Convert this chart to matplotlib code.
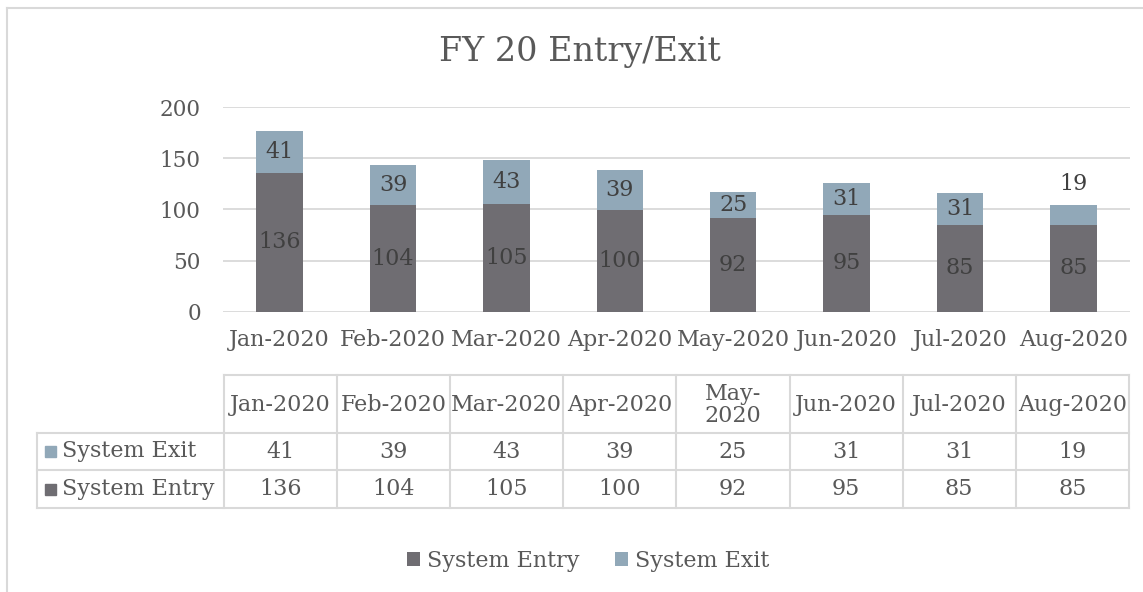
import numpy as np
import matplotlib.pyplot as plt
from matplotlib.patches import Rectangle
from matplotlib.lines import Line2D

months = ["Jan-2020", "Feb-2020", "Mar-2020", "Apr-2020",
          "May-2020", "Jun-2020", "Jul-2020", "Aug-2020"]
table_headers = ["Jan-2020", "Feb-2020", "Mar-2020", "Apr-2020",
                 "May-\n2020", "Jun-2020", "Jul-2020", "Aug-2020"]
system_entry = [136, 104, 105, 100, 92, 95, 85, 85]
system_exit = [41, 39, 43, 39, 25, 31, 31, 19]
yticks = [0, 50, 100, 150, 200]

ENTRY_C = "#6f6d72"
EXIT_C = "#91a8b8"
TXT = "#595959"
LBL = "#404040"
GRID = "#d9d9d9"
FS = 16

plt.rcParams['font.family'] = ['DejaVu Serif']

W, H = 1143, 592
fig = plt.figure(figsize=(W / 100, H / 100), dpi=100)

def fx(px):
    return px / W

def fy(py):
    return 1 - py / H

# outer chart frame (left & top visible)
fig.add_artist(Line2D([fx(7), fx(7)], [fy(8), 0], color=GRID, lw=1.5))
fig.add_artist(Line2D([fx(7), 1], [fy(8), fy(8)], color=GRID, lw=1.5))

fig.text(fx(580), fy(52), "FY 20 Entry/Exit", ha='center', va='center',
         fontsize=24, color=TXT)

# plot area
ax = fig.add_axes([fx(223), fy(312), fx(1130) - fx(223), fy(107) - fy(312)])
x = np.arange(len(months))
bw = 0.41
ax.bar(x, system_entry, bw, color=ENTRY_C, zorder=3, label="System Entry")
ax.bar(x, system_exit, bw, bottom=system_entry, color=EXIT_C, zorder=3,
       label="System Exit")
ax.set_xlim(-0.5, len(months) - 0.5)
ax.set_ylim(0, 200)
ax.set_yticks(yticks)
ax.yaxis.grid(True, color=GRID, lw=1.3, zorder=0)
for s in ax.spines.values():
    s.set_visible(False)
ax.tick_params(axis='y', length=0, labelsize=15.5, labelcolor=TXT, pad=16)
ax.set_xticks(x)
ax.set_xticklabels(months)
ax.tick_params(axis='x', length=0, labelsize=FS, labelcolor=TXT, pad=12)

for i in x:
    e, q = system_entry[i], system_exit[i]
    ax.text(i, e / 2, str(e), ha='center', va='center', fontsize=FS, color=LBL, zorder=4)
    if q >= 20:
        ax.text(i, e + q / 2, str(q), ha='center', va='center', fontsize=FS,
                color=LBL, zorder=4)
    else:
        ax.text(i, e + q + 10, str(q), ha='center', va='bottom', fontsize=FS,
                color=LBL, zorder=4)

# data table below chart
col_edges = [224 + 113.1 * k for k in range(len(months) + 1)]
row_y = [375, 433, 470, 508]
left_x = 37
tc = "#d9d9d9"
lw = 1.5
fig.add_artist(Line2D([fx(col_edges[0]), fx(col_edges[-1])], [fy(row_y[0])] * 2, color=tc, lw=lw))
for yy in row_y[1:]:
    fig.add_artist(Line2D([fx(left_x), fx(col_edges[-1])], [fy(yy)] * 2, color=tc, lw=lw))
for k, xx in enumerate(col_edges):
    fig.add_artist(Line2D([fx(xx)] * 2, [fy(row_y[0]), fy(row_y[-1])], color=tc, lw=lw))
fig.add_artist(Line2D([fx(left_x)] * 2, [fy(row_y[1]), fy(row_y[-1])], color=tc, lw=lw))

for k, h in enumerate(table_headers):
    cx = (col_edges[k] + col_edges[k + 1]) / 2
    fig.text(fx(cx), fy((row_y[0] + row_y[1]) / 2 + 1), h, ha='center', va='center',
             fontsize=FS, color=TXT, linespacing=1.05)

rows = [("System Exit", system_exit, EXIT_C), ("System Entry", system_entry, ENTRY_C)]
for r, (name, vals, c) in enumerate(rows):
    cy = (row_y[r + 1] + row_y[r + 2]) / 2
    fig.add_artist(Rectangle((fx(45), fy(cy) - 0.5 * 11 / H), 11 / W, 11 / H,
                             color=c, transform=fig.transFigure))
    fig.text(fx(62), fy(cy), name, ha='left', va='center', fontsize=FS, color=TXT)
    for k, v in enumerate(vals):
        cx = (col_edges[k] + col_edges[k + 1]) / 2
        fig.text(fx(cx), fy(cy), str(v), ha='center', va='center', fontsize=FS, color=TXT)

# legend
leg = fig.legend(loc='center', bbox_to_anchor=(fx(588), fy(561)), ncol=2, frameon=False,
                 fontsize=FS, handlelength=0.6, handleheight=0.6, handletextpad=0.3,
                 columnspacing=1.6, labelcolor=TXT)

fig.savefig("out.png", dpi=100, facecolor="white")
